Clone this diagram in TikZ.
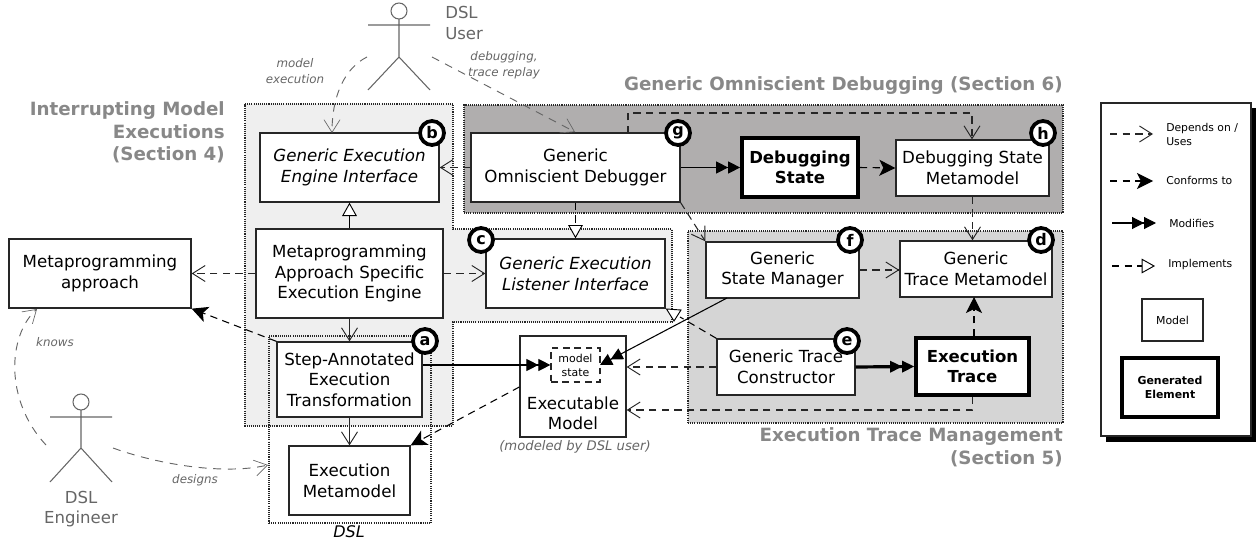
\documentclass[tikz,border=0pt]{standalone}
\usepackage{fontspec}
\setmainfont{DejaVu Sans}
\usetikzlibrary{arrows.meta}
\definecolor{dkreg}{HTML}{B0AEAE}
\definecolor{midreg}{HTML}{D5D5D5}
\definecolor{ltreg}{HTML}{EFEFEF}
\definecolor{titlegray}{HTML}{888888}
\definecolor{actorgray}{HTML}{666666}
\tikzset{
  wh/.style 2 args={minimum width=#1*0.75pt, minimum height=#2*0.75pt},
  mbox/.style={draw=black!85, line width=1pt, fill=white, inner sep=0pt, align=center, font=\fontsize{12.5}{15.5}\selectfont},
  genbox/.style={draw=black, line width=2.8pt, fill=white, inner sep=0pt, align=center, font=\fontsize{12.4}{15.5}\selectfont\bfseries},
  badge/.style={circle, draw=black, line width=2.8pt, fill=white, minimum size=18pt, inner sep=0pt, font=\fontsize{12}{12}\selectfont\bfseries},
  region/.style={line width=0.8pt, dash pattern=on 0.8pt off 0.8pt, draw=black!85},
  dep/.style={draw=black!85, line width=0.8pt, dash pattern=on 5.5pt off 4pt, -{Straight Barb[length=9.5pt,width=12pt,line width=0.7pt]}},
  conf/.style={draw=black, line width=0.8pt, dash pattern=on 5.5pt off 4pt, -{Stealth[length=12pt,width=12pt,inset=3pt]}},
  impl/.style={draw=black, line width=0.8pt, dash pattern=on 5.5pt off 4pt, -{Triangle[open,fill=white,length=10pt,width=11pt,line width=0.7pt]}},
  modif/.style={draw=black, line width=0.8pt, -{Triangle[length=9pt,width=9pt]Triangle[length=9pt,width=9pt]}},
  udep/.style={draw=actorgray, line width=0.7pt, dash pattern=on 6pt off 5pt, -{Straight Barb[length=9.5pt,width=12pt,line width=0.5pt]}},
  actor/.style={draw=actorgray, line width=0.8pt},
  actortext/.style={text=actorgray, align=center, inner sep=0pt, font=\fontsize{12.4}{15.5}\selectfont},
  note/.style={text=actorgray, align=center, inner sep=0pt, font=\fontsize{8.9}{11.6}\selectfont\itshape},
  sectitle/.style={text=titlegray, align=right, inner sep=0pt, font=\fontsize{13.7}{16.9}\selectfont\bfseries},
  legtext/.style={inner sep=0pt, align=left, anchor=west, font=\fontsize{8.1}{10}\selectfont},
}
\begin{document}
\begin{tikzpicture}[x=0.75pt,y=-0.75pt]
\useasboundingbox (0,0) rectangle (1258,542);
% regions
\fill[ltreg] (245,104) -- (453,104) -- (453,229) -- (672,229) -- (672,322) -- (453,322) -- (453,426) -- (245,426) -- cycle;
\draw[region] (245,104) -- (453,104) -- (453,229) -- (672,229) -- (672,322) -- (453,322) -- (453,426) -- (245,426) -- cycle;
\node[region, fill=dkreg, wh={599}{108}] (omni) at (763.5,159) {};
\node[region, fill=midreg, wh={375}{192}] (mgmt) at (875.5,327) {};
% titles
\node[sectitle, anchor=east] (t4) at (225,132.5) {Interrupting Model\\Executions\\(Section 4)};
\node[sectitle, anchor=east] (t6) at (1063,86) {Generic Omniscient Debugging (Section 6)};
\node[sectitle, anchor=east] (t5) at (1063,447) {Execution Trace Management\\(Section 5)};
% boxes
\node[mbox, wh={182}{69}] (meta) at (100,273.5) {Metaprogramming\\approach};
\node[mbox, wh={179}{69}, font=\fontsize{12.5}{15.5}\selectfont\itshape] (b) at (349.5,167.5) {Generic Execution\\Engine Interface};
\node[mbox, wh={187}{89}] (engine) at (349.5,273.5) {Metaprogramming\\Approach Specific\\Execution Engine};
\node[mbox, wh={145}{75}] (a) at (349.5,379.5) {Step-Annotated\\Execution\\Transformation};
\node[mbox, wh={121}{69}] (em) at (349.5,480.5) {Execution\\Metamodel};
\node[region, wh={162}{187}] (dsl) at (350,429.5) {};
\node[inner sep=0pt, font=\fontsize{12}{14}\selectfont\itshape] (dsltext) at (349,532) {DSL};
\node[mbox, wh={209}{69}] (g) at (575.5,167.5) {Generic\\Omniscient Debugger};
\node[genbox, wh={116}{59}] (ds) at (800,167.5) {Debugging\\State};
\node[mbox, wh={153}{56}] (h) at (972.5,168) {Debugging State\\Metamodel};
\node[mbox, wh={179}{69}, font=\fontsize{12.5}{15.5}\selectfont\itshape] (c) at (575.5,273.5) {Generic Execution\\Listener Interface};
\node[mbox, wh={153}{56}] (f) at (782.5,270) {Generic\\State Manager};
\node[mbox, wh={152}{56}] (d) at (976,269) {Generic\\Trace Metamodel};
\node[mbox, wh={138}{56}] (e) at (786,367) {Generic Trace\\Constructor};
\node[genbox, wh={113}{57}] (trace) at (972.5,366.5) {Execution\\Trace};
\node[mbox, wh={106}{101}] (xm) at (573,386.5) {};
\node[inner sep=0pt, align=center, font=\fontsize{12.5}{15}\selectfont] (xmtext) at (573,413) {Executable\\Model};
\node[draw=black!85, line width=0.9pt, dash pattern=on 5pt off 3.5pt, wh={49}{34}, inner sep=0pt, align=center, font=\fontsize{8.2}{10.5}\selectfont] (ms) at (575.5,365) {model\\state};
\node[note, font=\fontsize{9.9}{11}\selectfont\itshape] (xmnote) at (575,447) {(modeled by DSL user)};
% actors
\draw[actor] (399,11) circle (8);
\draw[actor] (368,25) -- (430,25) (399,19) -- (399,57) (368,90) -- (399,57) -- (430,90);
\node[actortext, anchor=north west, align=left] (usertext) at (445,6) {DSL\\User};
\draw[actor] (81,402) circle (8);
\draw[actor] (50,417) -- (112,417) (81,410) -- (81,448) (50,482) -- (81,448) -- (112,482);
\node[actortext] (engtext) at (81,509) {DSL\\Engineer};
% actor connectors
\coordinate (userL) at (367,57);
\coordinate (userR) at (432,57);
\coordinate (engL) at (46,445);
\coordinate (engR) at (113,448);
\coordinate (binto) at (332,133);
\coordinate (ginto) at (575,132);
\coordinate (metainto) at (37,309);
\coordinate (dslinto) at (268,465);
\draw[udep] (userL) .. controls (345,68) and (332,95) .. (binto);
\draw[udep] (userR) -- (ginto);
\draw[udep] (engL) .. controls (4,400) and (8,335) .. (metainto);
\draw[udep] (engR) .. controls (160,465) and (225,475) .. (dslinto);
\node[note] (n1) at (295,71) {model\\execution};
\node[note] (n2) at (504,65) {debugging,\\trace replay};
\node[note] (n3) at (55,342) {knows};
\node[note] (n4) at (195,480) {designs};
% connectors
\draw[dep] (g.west) -- (b.east);
\draw[impl, solid] (engine.north) -- (b.south);
\draw[dep] (engine.west) -- (meta.east);
\draw[dep] (engine.east) -- (c.west);
\draw[dep, solid] (engine.south) -- (a.north);
\draw[dep, solid] (a.south) -- (em.north);
\draw[conf] (a.north west) -- (meta.south east);
\draw[modif] (a.east |- ms.west) -- (ms.west);
\draw[conf] (xm.west |- 0,387) -- (em.north east);
\draw[impl] (g.south) -- (c.north);
\draw[modif] (g.east) -- (ds.west);
\draw[conf] (ds.east) -- (h.west);
\coordinate (gup) at (628,133);
\draw[dep] (gup) -- (628,113) -- (972,113) -- (h.north -| 972,0);
\draw[dep] (h.south) -- (h.south |- d.north);
\draw[dep] (g.south east) -- (f.north west);
\draw[dep] (f.east) -- (f.east -| d.west);
\coordinate (fout) at (727,298);
\coordinate (msin) at (600,365);
\draw[modif] (fout) -- (msin);
\coordinate (implend) at (680,317);
\draw[draw=black, line width=0.8pt, dash pattern=on 5.5pt off 4pt] (e.north west) -- (implend);
\coordinate (tria) at (666.5,309);
\coordinate (trib) at (681,310);
\coordinate (tric) at (674,321);
\draw[draw=black, line width=0.7pt, fill=white] (tria) -- (trib) -- (tric) -- cycle;
\draw[dep] (e.west) -- (e.west -| xm.east);
\draw[modif, line width=2.4pt, -{Triangle[length=9pt,width=9pt,line width=0pt]Triangle[length=9pt,width=9pt,line width=0pt]}] (e.east) -- (trace.west);
\draw[conf] (trace.north -| 974,0) -- (974,297);
\draw[dep] (trace.south) -- (972.5,410) -- (xm.east |- 0,410);
% badges
\node[badge] (bb) at (432,133) {b};
\node[badge] (ba) at (425,341) {a};
\node[badge] (bg) at (678,133) {g};
\node[badge] (bh) at (1043,133) {h};
\node[badge] (bf) at (850,240) {f};
\node[badge] (bd) at (1041,240) {d};
\node[badge] (bc) at (481,240) {c};
\node[badge] (be) at (847,341) {e};
% legend
\fill[black] (1106,108) rectangle (1256,442);
\node[draw=black!85, line width=0.9pt, fill=white, wh={150}{333}] (legend) at (1176,269.5) {};
\coordinate (l1a) at (1110,134); \coordinate (l1b) at (1153,134);
\coordinate (l2a) at (1110,181); \coordinate (l2b) at (1153,181);
\coordinate (l3a) at (1112,223); \coordinate (l3b) at (1156,223);
\coordinate (l4a) at (1112,266); \coordinate (l4b) at (1155,266);
\draw[dep] (l1a) -- (l1b);
\draw[conf] (l2a) -- (l2b);
\draw[modif] (l3a) -- (l3b);
\draw[impl] (l4a) -- (l4b);
\node[legtext] (lt1) at (1166,134.5) {Depends on /\\Uses};
\node[legtext] (lt2) at (1166,180) {Conforms to};
\node[legtext] (lt3) at (1169,223) {Modifies};
\node[legtext] (lt4) at (1168,265) {Implements};
\node[mbox, wh={61}{42}, font=\fontsize{8.2}{10}\selectfont] (lmodel) at (1172.5,320) {Model};
\node[genbox, wh={96}{59}, font=\fontsize{8.2}{10.5}\selectfont\bfseries] (lgen) at (1170,387.5) {Generated\\Element};
\end{tikzpicture}
\end{document}
